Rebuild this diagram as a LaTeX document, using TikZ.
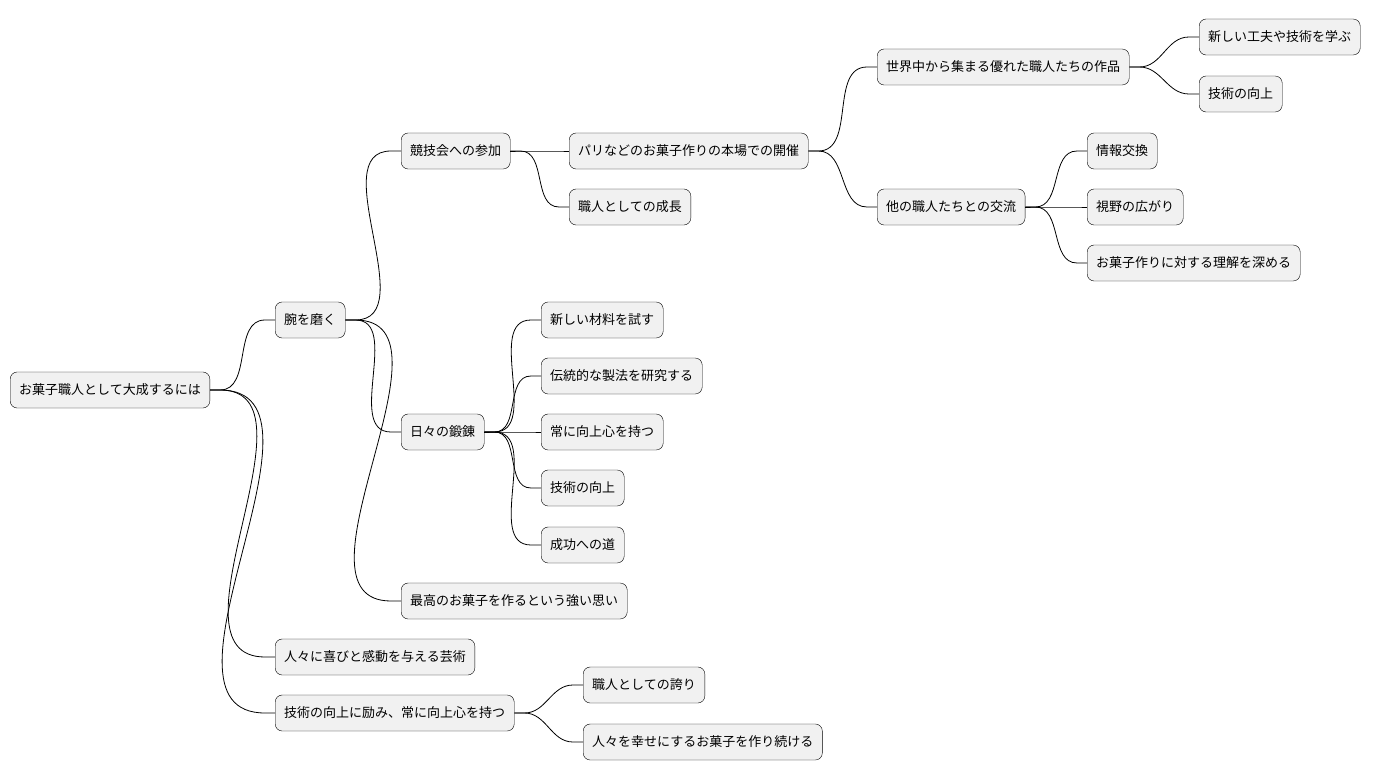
\documentclass[tikz,border=0pt]{standalone}
\usepackage{fontspec}
\setmainfont{Noto Sans CJK JP}
\usetikzlibrary{positioning}
\definecolor{boxfill}{HTML}{F1F1F1}
\tikzset{
  topic/.style={draw, fill=boxfill, rounded corners=7pt, anchor=west,
    minimum height=36pt, inner xsep=9pt, font=\fontsize{13}{15}\selectfont},
  link/.style={draw, line width=0.8pt}
}
\newcommand{\branch}[2]{\path[link] (#1.east) -- ++(10,0) to[out=0,in=180] ([xshift=-10pt]#2.west) -- (#2.west);}
\begin{document}
\begin{tikzpicture}[x=1pt,y=-1pt]
  \useasboundingbox (0,0) rectangle (1384,781);
  \node[topic] (root) at (10,390) {お菓子職人として大成するには};
  \node[topic] (skill) at (275,320) {腕を磨く};
  \node[topic] (contest) at (401,151) {競技会への参加};
  \node[topic] (paris) at (569,151) {パリなどのお菓子作りの本場での開催};
  \node[topic] (works) at (877,67) {世界中から集まる優れた職人たちの作品};
  \node[topic] (learn) at (1199,37) {新しい工夫や技術を学ぶ};
  \node[topic] (tech1) at (1199,94) {技術の向上};
  \node[topic] (meet) at (877,207) {他の職人たちとの交流};
  \node[topic] (info) at (1087,151) {情報交換};
  \node[topic] (view) at (1087,207) {視野の広がり};
  \node[topic] (deep) at (1087,263) {お菓子作りに対する理解を深める};
  \node[topic] (grow) at (569,207) {職人としての成長};
  \node[topic] (daily) at (401,432) {日々の鍛錬};
  \node[topic] (newmat) at (541,320) {新しい材料を試す};
  \node[topic] (trad) at (541,376) {伝統的な製法を研究する};
  \node[topic] (mind) at (541,432) {常に向上心を持つ};
  \node[topic] (tech2) at (541,488) {技術の向上};
  \node[topic] (road) at (541,545) {成功への道};
  \node[topic] (wish) at (401,601) {最高のお菓子を作るという強い思い};
  \node[topic] (art) at (275,657) {人々に喜びと感動を与える芸術};
  \node[topic] (effort) at (275,713) {技術の向上に励み、常に向上心を持つ};
  \node[topic] (pride) at (583,685) {職人としての誇り};
  \node[topic] (happy) at (583,742) {人々を幸せにするお菓子を作り続ける};
  \foreach \p/\c in {root/skill, root/art, root/effort,
      skill/contest, skill/daily, skill/wish,
      contest/paris, contest/grow, paris/works, paris/meet,
      works/learn, works/tech1, meet/info, meet/view, meet/deep,
      daily/newmat, daily/trad, daily/mind, daily/tech2, daily/road,
      effort/pride, effort/happy}
    {\branch{\p}{\c}}
\end{tikzpicture}
\end{document}
